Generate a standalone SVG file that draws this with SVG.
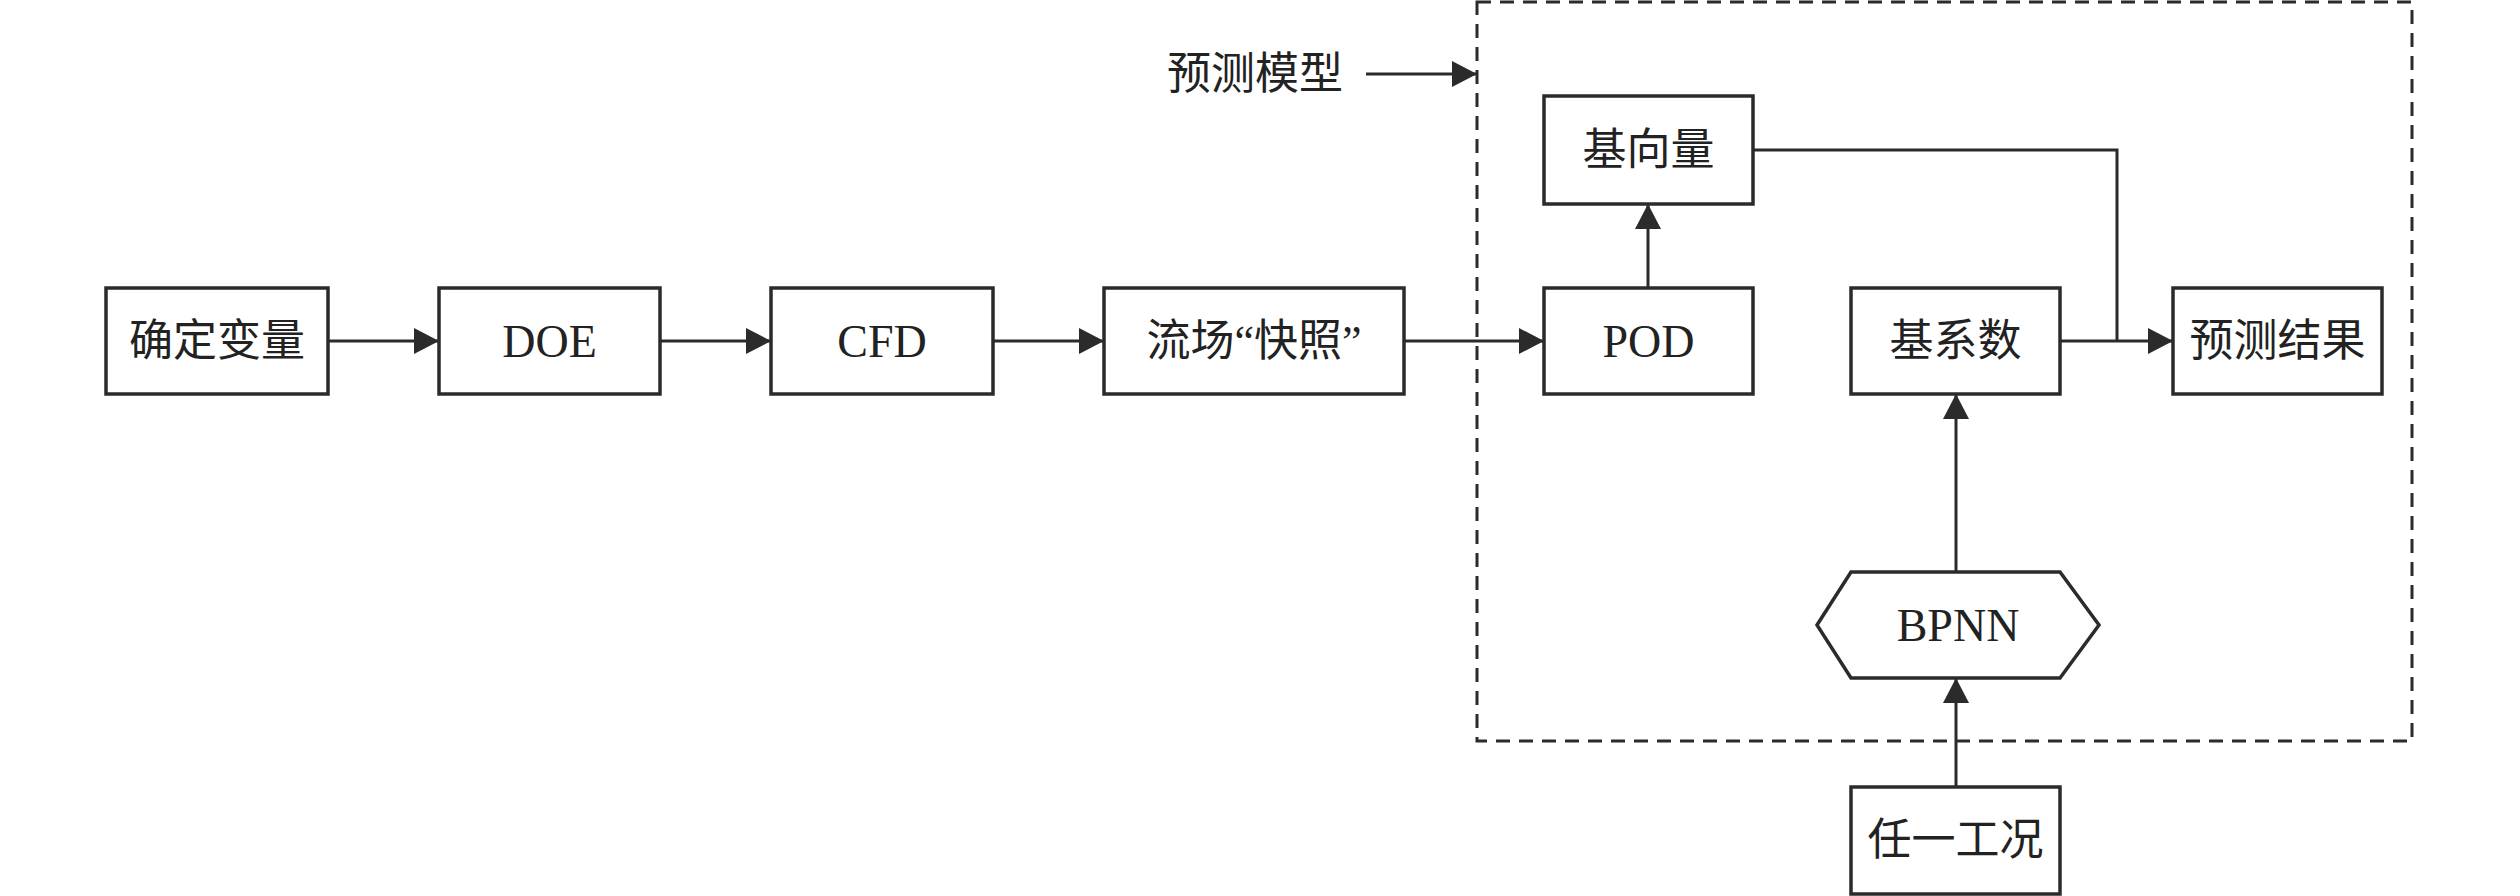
<svg xmlns="http://www.w3.org/2000/svg" width="2520" height="896" viewBox="0 0 2520 896">
<style>
.box{fill:#fff;stroke:#2b2b2b;stroke-width:3.5}
.lbl{font-family:"Liberation Serif","Noto Sans CJK SC",serif;font-size:44px;fill:#222;text-anchor:middle;dominant-baseline:central}
.lat{font-size:46px}
.ln{fill:none;stroke:#2b2b2b;stroke-width:3}
.dash{fill:none;stroke:#2b2b2b;stroke-width:3;stroke-dasharray:14 9}
</style>
<defs>
<marker id="ah" markerUnits="userSpaceOnUse" markerWidth="26" markerHeight="28" refX="25" refY="13" orient="auto">
<path d="M0,0 L25,13 L0,26 z" fill="#2b2b2b"/>
</marker>
</defs>
<rect class="dash" x="1477" y="2" width="935" height="739"/>
<g id="connectors">
<line class="ln" x1="328" y1="341" x2="439" y2="341" marker-end="url(#ah)"/>
<line class="ln" x1="660" y1="341" x2="771" y2="341" marker-end="url(#ah)"/>
<line class="ln" x1="993" y1="341" x2="1104" y2="341" marker-end="url(#ah)"/>
<line class="ln" x1="1404" y1="341" x2="1544" y2="341" marker-end="url(#ah)"/>
<line class="ln" x1="1648" y1="288" x2="1648" y2="204" marker-end="url(#ah)"/>
<polyline class="ln" points="1753,150 2117,150 2117,341"/>
<line class="ln" x1="2060" y1="341" x2="2173" y2="341" marker-end="url(#ah)"/>
<line class="ln" x1="1956" y1="572" x2="1956" y2="394" marker-end="url(#ah)"/>
<line class="ln" x1="1956" y1="787" x2="1956" y2="678" marker-end="url(#ah)"/>
<line class="ln" x1="1366" y1="74" x2="1477" y2="74" marker-end="url(#ah)"/>
</g>
<g id="label-model"><text class="lbl" x="1255" y="74">预测模型</text></g>
<g id="n1"><rect class="box" x="106" y="288" width="222" height="106"/><text class="lbl" x="217" y="341">确定变量</text></g>
<g id="n2"><rect class="box" x="439" y="288" width="221" height="106"/><text class="lbl lat" x="549.5" y="341">DOE</text></g>
<g id="n3"><rect class="box" x="771" y="288" width="222" height="106"/><text class="lbl lat" x="882" y="341">CFD</text></g>
<g id="n4"><rect class="box" x="1104" y="288" width="300" height="106"/><text class="lbl" x="1254" y="341">流场“快照”</text></g>
<g id="n5"><rect class="box" x="1544" y="288" width="209" height="106"/><text class="lbl lat" x="1648.5" y="341">POD</text></g>
<g id="n6"><rect class="box" x="1544" y="96" width="209" height="108"/><text class="lbl" x="1648.5" y="150">基向量</text></g>
<g id="n7"><rect class="box" x="1851" y="288" width="209" height="106"/><text class="lbl" x="1955.5" y="341">基系数</text></g>
<g id="n8"><rect class="box" x="2173" y="288" width="209" height="106"/><text class="lbl" x="2277.5" y="341">预测结果</text></g>
<g id="n9"><polygon class="box" points="1817,625 1851,572 2060,572 2099,625 2060,678 1851,678"/><text class="lbl lat" x="1958" y="625">BPNN</text></g>
<g id="n10"><rect class="box" x="1851" y="787" width="209" height="107"/><text class="lbl" x="1955.5" y="840">任一工况</text></g>
</svg>
